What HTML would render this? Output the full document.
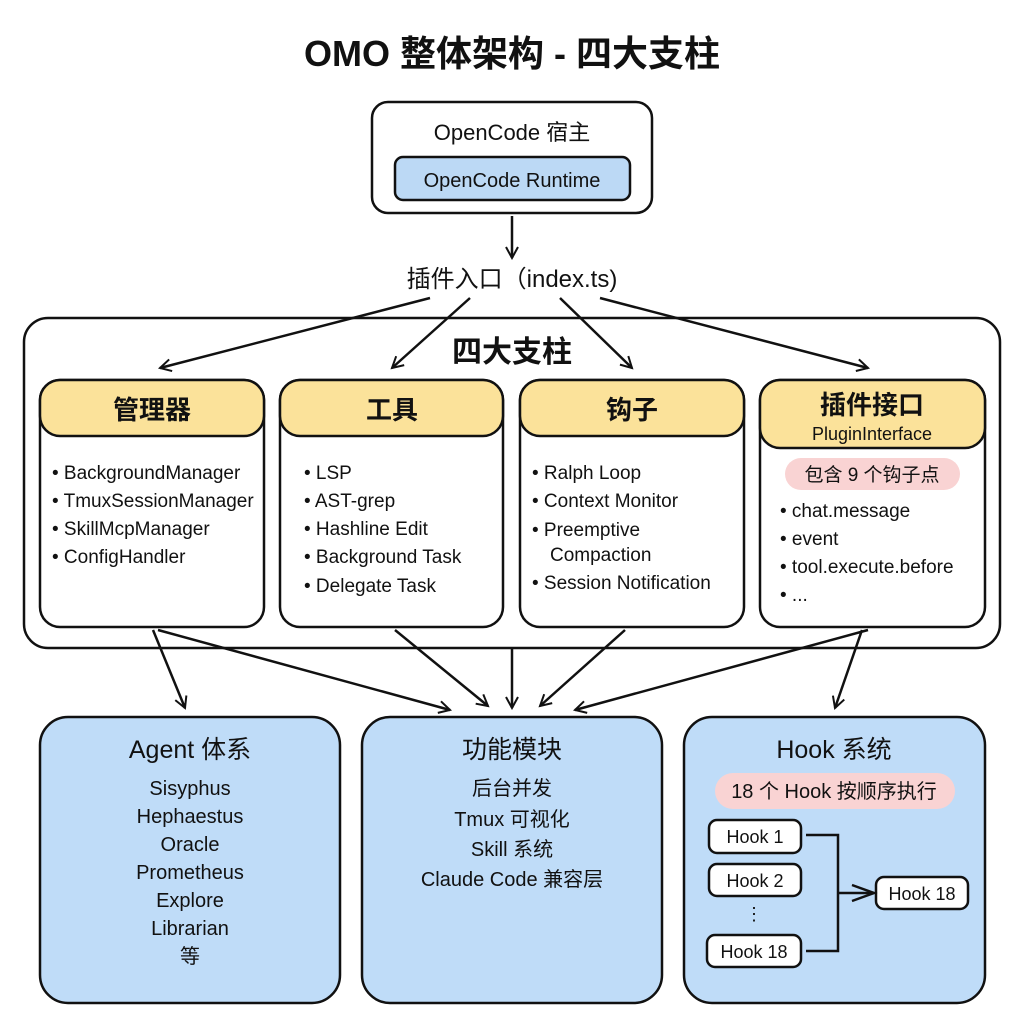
<!DOCTYPE html>
<html><head><meta charset="utf-8"><style>
body{margin:0;background:#fff}
svg text{font-family:"Liberation Sans","Noto Sans CJK SC",sans-serif;fill:#111}
</style></head><body>
<svg width="1024" height="1024" viewBox="0 0 1024 1024" xmlns="http://www.w3.org/2000/svg">
<defs><marker id="a" markerWidth="14" markerHeight="14" refX="12" refY="7" orient="auto" markerUnits="userSpaceOnUse"><path d="M1,1 L12,7 L1,13" fill="none" stroke="#111" stroke-width="2"/></marker></defs>
<g stroke="#111" stroke-width="2.5" fill="none">
<text x="512" y="66" text-anchor="middle" font-size="36" font-weight="bold" stroke="none">OMO 整体架构 - 四大支柱</text>
<rect x="372" y="102" width="280" height="111" rx="16"/>
<rect x="395" y="157" width="235" height="43" rx="8" fill="#bcd9f5"/>
<line x1="512" y1="216" x2="512" y2="258" marker-end="url(#a)"/>
<rect x="24" y="318" width="976" height="330" rx="24"/>
<line x1="430" y1="298" x2="160" y2="368" marker-end="url(#a)"/>
<line x1="470" y1="298" x2="392" y2="368" marker-end="url(#a)"/>
<line x1="560" y1="298" x2="632" y2="368" marker-end="url(#a)"/>
<line x1="600" y1="298" x2="868" y2="368" marker-end="url(#a)"/>
<rect x="40" y="380" width="224" height="247" rx="20" fill="#fff"/>
<rect x="40" y="380" width="224" height="56" rx="20" fill="#fbe29a"/>
<rect x="280" y="380" width="223" height="247" rx="20" fill="#fff"/>
<rect x="280" y="380" width="223" height="56" rx="20" fill="#fbe29a"/>
<rect x="520" y="380" width="224" height="247" rx="20" fill="#fff"/>
<rect x="520" y="380" width="224" height="56" rx="20" fill="#fbe29a"/>
<rect x="760" y="380" width="225" height="247" rx="20" fill="#fff"/>
<rect x="760" y="380" width="225" height="68" rx="20" fill="#fbe29a"/>
<rect x="785" y="458" width="175" height="32" rx="16" fill="#f9d3d3" stroke="none"/>
<line x1="153" y1="630" x2="185" y2="708" marker-end="url(#a)"/>
<line x1="158" y1="630" x2="450" y2="710" marker-end="url(#a)"/>
<line x1="395" y1="630" x2="488" y2="706" marker-end="url(#a)"/>
<line x1="512" y1="648" x2="512" y2="708" marker-end="url(#a)"/>
<line x1="625" y1="630" x2="540" y2="706" marker-end="url(#a)"/>
<line x1="868" y1="630" x2="575" y2="710" marker-end="url(#a)"/>
<line x1="862" y1="630" x2="835" y2="708" marker-end="url(#a)"/>
<rect x="40" y="717" width="300" height="286" rx="28" fill="#bfdcf8"/>
<rect x="362" y="717" width="300" height="286" rx="28" fill="#bfdcf8"/>
<rect x="684" y="717" width="301" height="286" rx="28" fill="#bfdcf8"/>
<rect x="715" y="773" width="240" height="36" rx="18" fill="#f9d3d3" stroke="none"/>
<rect x="709" y="820" width="92" height="33" rx="8" fill="#fff"/>
<rect x="709" y="864" width="92" height="32" rx="8" fill="#fff"/>
<rect x="707" y="935" width="94" height="32" rx="8" fill="#fff"/>
<rect x="876" y="877" width="92" height="32" rx="8" fill="#fff"/>
<path d="M806,835 H838 V951 H806 M838,893 H874" />
<path d="M852,885 L874,893 L852,901"/>
</g>
<g font-size="22" text-anchor="middle">
<text x="512" y="140">OpenCode 宿主</text>
<text x="512" y="187" font-size="20">OpenCode Runtime</text>
<text x="512" y="287" font-size="24">插件入口（index.ts)</text>
<text x="512" y="362" font-size="30" font-weight="bold">四大支柱</text>
<text x="152" y="419" font-size="26" font-weight="bold">管理器</text>
<text x="392" y="419" font-size="26" font-weight="bold">工具</text>
<text x="632" y="419" font-size="26" font-weight="bold">钩子</text>
<text x="872" y="414" font-size="26" font-weight="bold">插件接口</text>
<text x="872" y="440" font-size="18">PluginInterface</text>
<text x="872" y="481" font-size="19">包含 9 个钩子点</text>
</g>
<g font-size="19">
<text x="52" y="479">• BackgroundManager</text>
<text x="52" y="507">• TmuxSessionManager</text>
<text x="52" y="535">• SkillMcpManager</text>
<text x="52" y="563">• ConfigHandler</text>
<text x="304" y="479">• LSP</text>
<text x="304" y="507">• AST-grep</text>
<text x="304" y="535">• Hashline Edit</text>
<text x="304" y="563">• Background Task</text>
<text x="304" y="592">• Delegate Task</text>
<text x="532" y="479">• Ralph Loop</text>
<text x="532" y="507">• Context Monitor</text>
<text x="532" y="536">• Preemptive</text>
<text x="550" y="561">Compaction</text>
<text x="532" y="589">• Session Notification</text>
<text x="780" y="517">• chat.message</text>
<text x="780" y="545">• event</text>
<text x="780" y="573">• tool.execute.before</text>
<text x="780" y="601">• ...</text>
</g>
<g font-size="20" text-anchor="middle">
<text x="190" y="758" font-size="25">Agent 体系</text>
<text x="190" y="795">Sisyphus</text>
<text x="190" y="823">Hephaestus</text>
<text x="190" y="851">Oracle</text>
<text x="190" y="879">Prometheus</text>
<text x="190" y="907">Explore</text>
<text x="190" y="935">Librarian</text>
<text x="190" y="963">等</text>
<text x="512" y="758" font-size="25">功能模块</text>
<text x="512" y="795">后台并发</text>
<text x="512" y="826">Tmux 可视化</text>
<text x="512" y="856">Skill 系统</text>
<text x="512" y="886">Claude Code 兼容层</text>
<text x="834" y="758" font-size="25">Hook 系统</text>
<text x="834" y="798">18 个 Hook 按顺序执行</text>
<text x="755" y="843" font-size="18">Hook 1</text>
<text x="755" y="887" font-size="18">Hook 2</text>
<text x="754" y="920" font-size="18">⋮</text>
<text x="754" y="958" font-size="18">Hook 18</text>
<text x="922" y="900" font-size="18">Hook 18</text>
</g>
</svg>
</body></html>
